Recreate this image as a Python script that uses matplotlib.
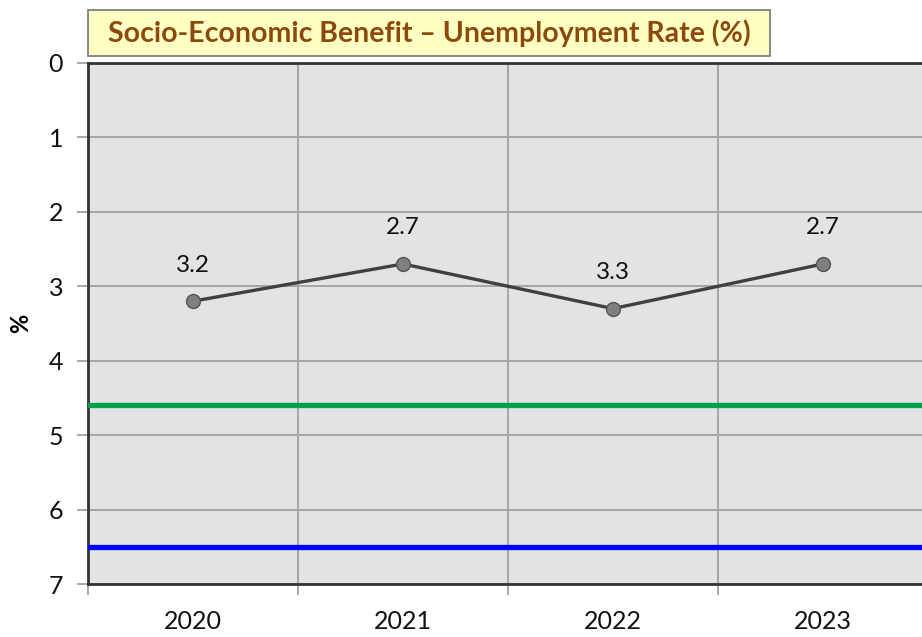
import matplotlib.pyplot as plt
from matplotlib.patches import Rectangle
import numpy as np

# data
years = ['2020', '2021', '2022', '2023']
unemployment = [3.2, 2.7, 3.3, 2.7]
green_ref = 4.6
blue_ref = 6.5

plt.rcParams['font.family'] = ['Lato', 'DejaVu Sans']

W, H = 922, 637
fig = plt.figure(figsize=(W/100, H/100), dpi=100)
# plot area runs past the right edge like in the original
ax = fig.add_axes([88/W, 1-584/H, 840/W, (584-63)/H])
ax.set_facecolor('#e3e3e3')

x = np.arange(len(years))

#reference lines
ax.axhline(green_ref, color='#00a04a', lw=3.8, zorder=3)
ax.axhline(blue_ref, color='#0000ff', lw=3.8, zorder=3)

#main series
ax.plot(x, unemployment, color='#404040', lw=2.4, marker='o', markersize=10,
        markerfacecolor='#7f7f7f', markeredgecolor='#555555', markeredgewidth=1, zorder=4)
for xi, v in zip(x, unemployment):
    ax.annotate(f'{v:.1f}', (xi, v), xytext=(0, 26), textcoords='offset points',
                ha='center', va='center', fontsize=17.5, color='#111111')

ax.set_xlim(-0.5, 3.5)
ax.set_ylim(7, 0)
ax.set_yticks(range(0, 8))
ax.set_xticks(x)
ax.set_xticklabels(years)
ax.set_xticks(np.arange(-0.5, 3.6, 1), minor=True)

ax.tick_params(axis='x', which='major', length=0, pad=19, labelsize=18, labelcolor='#111111')
ax.tick_params(axis='x', which='minor', length=8, width=1.2, color='#999999')
ax.tick_params(axis='y', length=8, width=1.2, color='#999999', pad=10, labelsize=18, labelcolor='#111111')

ax.grid(True, axis='y', color='#a6a6a6', lw=1.4, zorder=1)
ax.grid(True, axis='x', which='minor', color='#a6a6a6', lw=1.4, zorder=1)
ax.set_axisbelow(True)

for side in ['left', 'bottom', 'top']:
    ax.spines[side].set_color('#333333')
    ax.spines[side].set_linewidth(2)
ax.spines['right'].set_visible(False)

ax.set_ylabel('%', fontsize=17, fontweight='bold', labelpad=12)

#title box
fig.patches.append(Rectangle((88/W, 1-56/H), (770-88)/W, 46/H, transform=fig.transFigure,
                             facecolor='#ffffc4', edgecolor='#808080', lw=1.3))
fig.text(429/W, 1-33/H, 'Socio-Economic Benefit \u2013 Unemployment Rate (%)',
         fontsize=20.5, fontweight='bold', color='#8b4a0c', ha='center', va='center')

fig.savefig('out.png', dpi=100)
